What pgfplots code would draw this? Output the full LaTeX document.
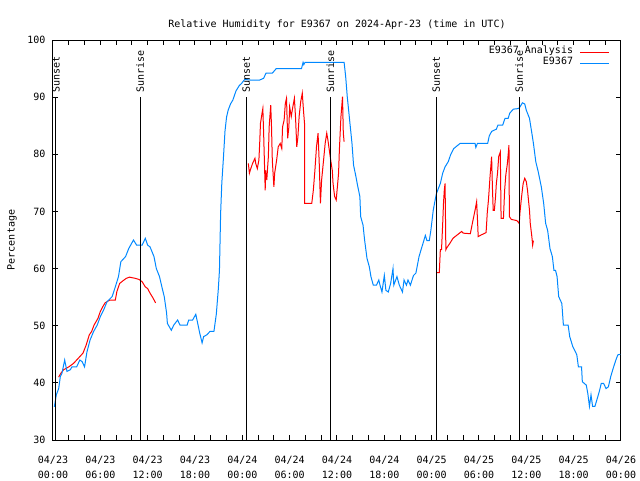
\documentclass[border=0pt]{standalone}
\usepackage{fontspec}
\setmonofont{DejaVu Sans Mono}
\usepackage{pgfplots}
\pgfplotsset{compat=1.18}
\definecolor{gpred}{RGB}{255,0,0}
\definecolor{gpblue}{RGB}{0,136,255}
\newcommand\gfont{\ttfamily\fontsize{7.5}{10.9}\selectfont}

\begin{document}
\begin{tikzpicture}
\useasboundingbox (-39.75pt,-30pt) rectangle (440.25pt,330pt);
\begin{axis}[
    at={(0,0)}, anchor=south west,
    scale only axis, width=426pt, height=300pt,
    xmin=0, xmax=72, ymin=30, ymax=100,
    axis line style={line width=0.75pt},
    tick style={black, line width=0.75pt},
    tick align=inside,
    major tick length=3.75pt, minor tick length=3.75pt,
    xtick={0,6,...,72}, minor x tick num=2,
    xticklabels={{04/23\\00:00},{04/23\\06:00},{04/23\\12:00},{04/23\\18:00},
                 {04/24\\00:00},{04/24\\06:00},{04/24\\12:00},{04/24\\18:00},
                 {04/25\\00:00},{04/25\\06:00},{04/25\\12:00},{04/25\\18:00},
                 {04/26\\00:00}},
    xticklabel style={align=center, anchor=north, inner sep=0pt, yshift=-12pt, font=\gfont},
    ytick={30,40,...,100},
    yticklabels={30,40,50,60,70,80,90,100},
    yticklabel style={anchor=east, inner sep=0pt, xshift=-5.5pt, font=\gfont},
    title={Relative Humidity for E9367 on 2024-Apr-23 (time in UTC)},
    every axis title/.style={at={(0.5,1)}, anchor=base, yshift=9.75pt, font=\gfont},
    ylabel={Percentage},
    ylabel style={at={(axis description cs:-0.072,0.5)}, anchor=center, font=\gfont},
    legend plot pos=right,
    legend cell align=right,
    legend style={at={(1,1)}, anchor=north east, xshift=-5.25pt, yshift=-2.5pt,
                  draw=none, fill=none, font=\gfont, row sep=0pt, column sep=5pt,
                  nodes={inner sep=0pt, text height=5.3pt, text depth=3.4pt}},
    legend image code/.code={\draw[#1] (0pt,0pt) -- (21.75pt,0pt);},
    unbounded coords=jump,
]
\addplot[gpred, line width=0.75pt] coordinates {
(0.72,41.0) (1.0,41.7) (1.35,42.3) (2.0,42.8) (2.6,43.4) (3.0,44.0) (3.4,44.6) (3.8,45.2)
(4.2,46.6) (4.6,48.4) (4.9,49.0) (5.2,50.1) (5.7,51.3) (6.0,52.5) (6.3,53.3) (6.6,54.0)
(7.2,54.5) (7.9,54.5) (8.1,56.0) (8.45,57.4) (8.9,57.9) (9.3,58.3) (9.7,58.5) (10.4,58.3)
(10.9,58.1) (11.3,57.7) (11.7,56.8) (12.0,56.5) (12.3,55.7) (12.7,54.8) (13.0,54.0)
(18,nan)
(24.76,78.4) (24.9,76.7) (25.05,77.4) (25.3,78.4) (25.6,79.3) (25.7,78.4) (25.9,77.5)
(26.1,79.0) (26.2,81.9) (26.3,85.4) (26.5,87.2) (26.6,88.0) (26.7,83.7) (26.9,73.7)
(26.95,77.2) (27.1,75.5) (27.3,79.6) (27.4,84.8) (27.6,88.6) (27.7,84.8) (27.8,79.0)
(28.0,74.3) (28.1,76.7) (28.35,79.0) (28.55,81.3) (28.8,81.9) (29.0,81.0) (29.1,84.8)
(29.3,86.0) (29.45,88.9) (29.6,89.8) (29.75,82.8) (29.9,84.8) (30.0,88.3) (30.2,86.6)
(30.4,88.3) (30.6,89.8) (30.75,86.3) (30.9,81.3) (31.05,83.1) (31.2,86.6) (31.4,89.2)
(31.6,90.7) (31.75,87.7) (31.9,85.1) (31.91,71.4) (32.8,71.4) (33.0,73.7) (33.2,77.2)
(33.4,81.3) (33.6,83.7) (33.75,78.4) (33.9,71.4) (34.05,75.5) (34.3,79.0) (34.5,81.9)
(34.7,83.7) (34.85,82.5) (35.0,81.0) (35.2,79.0) (35.4,77.2) (35.5,74.9) (35.7,72.6)
(35.9,72.0) (36.05,74.3) (36.2,76.7) (36.3,80.7) (36.5,86.6) (36.6,88.3) (36.7,90.1)
(36.8,83.7) (36.9,82.2)
(42,nan)
(48.6,59.3) (48.97,59.3) (49.1,63.3) (49.25,63.3) (49.4,67.9) (49.5,71.4) (49.6,73.7)
(49.7,74.9) (49.8,63.3) (49.9,63.6) (50.3,64.4) (50.7,65.3) (51.25,65.9) (51.8,66.5)
(52.0,66.2) (52.9,66.1) (53.2,68.2) (53.5,70.2) (53.7,71.7) (53.8,68.8) (53.9,65.6)
(54.3,65.9) (54.9,66.3) (55.05,69.8) (55.2,72.0) (55.4,76.1) (55.6,79.6) (55.7,74.3)
(55.8,70.2) (55.95,70.2) (56.1,72.6) (56.2,74.9) (56.35,76.7) (56.5,79.6) (56.7,80.4)
(56.8,68.8) (57.1,68.8) (57.25,73.7) (57.4,76.4) (57.6,78.4) (57.8,81.6) (57.85,69.1)
(58.1,68.6) (58.8,68.4) (59.1,67.9) (59.2,69.9) (59.4,72.6) (59.6,74.9) (59.8,75.8)
(60.0,75.2) (60.15,73.7) (60.4,70.2) (60.5,67.9) (60.7,65.6) (60.8,64.1) (60.9,64.9)
};
\addlegendentry{E9367 Analysis}
\addplot[gpblue, line width=0.75pt] coordinates {
(0.17,35.8) (0.42,37.9) (0.72,39.0) (0.93,41.1) (1.14,41.7) (1.48,44.0) (1.77,42.0)
(2.2,42.3) (2.4,42.8) (3.0,42.8) (3.4,44.0) (3.7,43.7) (4.0,42.8) (4.3,45.4) (4.7,47.5)
(5.15,49.0) (5.6,50.1) (6.0,51.6) (6.4,52.7) (6.85,54.2) (7.5,55.1) (7.9,56.8) (8.3,58.6)
(8.6,61.2) (9.2,62.1) (9.6,63.5) (10.2,65.0) (10.6,64.1) (11.3,64.1) (11.7,65.3) (12.0,64.1)
(12.3,63.8) (12.8,62.1) (13.1,60.0) (13.5,58.6) (13.8,56.8) (14.1,55.1) (14.4,52.2)
(14.5,50.4) (15.0,49.2) (15.3,50.1) (15.8,51.0) (16.1,50.1) (17.0,50.1) (17.2,51.0)
(17.7,51.0) (18.1,52.0) (18.3,50.7) (18.6,48.7) (18.9,47.0) (19.1,48.1) (19.5,48.4)
(19.9,49.0) (20.4,49.0) (20.7,52.0) (20.95,56.3) (21.1,59.7) (21.25,69.7) (21.4,75.0)
(21.6,79.3) (21.8,84.0) (22.0,86.5) (22.2,87.7) (22.5,88.8) (22.8,89.5) (23.2,91.1)
(23.6,92.0) (23.9,92.4) (24.3,93.1) (25.0,93.0) (26.2,93.0) (26.7,93.3) (27.0,94.2)
(27.8,94.2) (28.3,95.0) (31.5,95.0) (31.7,96.1) (31.8,95.7) (31.95,96.1) (36.9,96.1)
(37.1,93.6) (37.3,90.1) (37.6,86.0) (37.9,81.9) (38.1,78.1) (38.4,76.1) (38.6,74.6)
(38.9,72.6) (39.0,69.1) (39.3,67.6) (39.5,65.0) (39.8,61.8) (40.1,60.3) (40.3,58.6)
(40.6,57.1) (41.0,57.1) (41.3,58.0) (41.45,57.1) (41.7,55.9) (42.0,58.8) (42.2,56.2)
(42.5,55.9) (42.8,57.4) (43.1,60.0) (43.2,57.1) (43.6,58.6) (43.9,57.1) (44.3,55.9)
(44.5,58.0) (44.8,57.1) (45.0,58.0) (45.3,57.1) (45.7,58.8) (46.0,59.2) (46.4,62.1)
(46.7,63.5) (46.9,64.4) (47.2,65.8) (47.4,64.9) (47.7,64.9) (47.9,66.7) (48.2,70.2)
(48.4,71.7) (48.6,73.1) (49.1,74.9) (49.4,76.7) (49.7,77.8) (50.1,78.7) (50.4,79.9)
(50.8,81.0) (51.6,81.9) (53.5,81.9) (53.6,81.2) (53.8,81.9) (55.1,81.9) (55.3,83.2)
(55.6,84.0) (56.2,84.4) (56.4,85.1) (57.0,85.1) (57.3,86.3) (57.7,86.3) (57.9,87.2)
(58.35,87.9) (59.0,88.0) (59.2,88.3) (59.5,89.0) (59.8,88.8) (60.0,87.7) (60.4,86.3)
(60.7,83.7) (60.9,81.9) (61.2,78.7) (61.5,77.0) (61.9,74.3) (62.2,71.4) (62.45,67.9)
(62.7,66.7) (63.0,63.5) (63.3,62.1) (63.5,59.7) (63.7,59.7) (63.9,58.6) (64.1,55.1)
(64.5,53.9) (64.7,50.1) (65.3,50.1) (65.5,48.1) (65.9,46.3) (66.2,45.5) (66.4,44.9)
(66.6,42.8) (67.0,42.8) (67.1,40.2) (67.6,39.6) (67.8,38.1) (68.0,35.9) (68.2,37.9)
(68.4,35.9) (68.7,35.9) (69.0,37.3) (69.25,38.5) (69.5,39.9) (69.8,39.9) (70.1,39.0)
(70.4,39.3) (70.7,41.1) (71.0,42.5) (71.35,44.0) (71.6,44.9) (71.9,45.0)
};
\addlegendentry{E9367}
% sunset / sunrise markers
\addplot[black, line width=0.75pt, forget plot] coordinates {(0.38,30) (0.38,90)};
\addplot[black, line width=0.75pt, forget plot] coordinates {(11.06,30) (11.06,90)};
\addplot[black, line width=0.75pt, forget plot] coordinates {(24.5,30) (24.5,90)};
\addplot[black, line width=0.75pt, forget plot] coordinates {(35.15,30) (35.15,90)};
\addplot[black, line width=0.75pt, forget plot] coordinates {(48.58,30) (48.58,90)};
\addplot[black, line width=0.75pt, forget plot] coordinates {(59.1,30) (59.1,90)};
\node[rotate=90, anchor=west, inner sep=0pt, font=\gfont] at ([yshift=3.5pt]axis cs:0.38,90) {Sunset};
\node[rotate=90, anchor=west, inner sep=0pt, font=\gfont] at ([yshift=3.5pt]axis cs:11.06,90) {Sunrise};
\node[rotate=90, anchor=west, inner sep=0pt, font=\gfont] at ([yshift=3.5pt]axis cs:24.5,90) {Sunset};
\node[rotate=90, anchor=west, inner sep=0pt, font=\gfont] at ([yshift=3.5pt]axis cs:35.15,90) {Sunrise};
\node[rotate=90, anchor=west, inner sep=0pt, font=\gfont] at ([yshift=3.5pt]axis cs:48.58,90) {Sunset};
\node[rotate=90, anchor=west, inner sep=0pt, font=\gfont] at ([yshift=3.5pt]axis cs:59.1,90) {Sunrise};
\end{axis}
\end{tikzpicture}
\end{document}
